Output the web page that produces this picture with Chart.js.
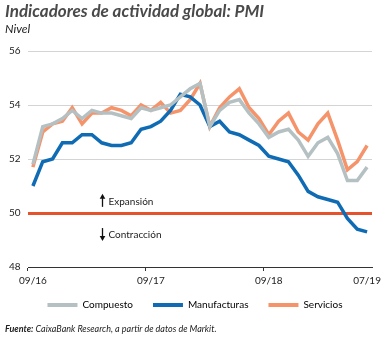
<!DOCTYPE html>
<html>
<head>
<meta charset="utf-8">
<script src="https://cdn.jsdelivr.net/npm/chart.js@4.4.1/dist/chart.umd.min.js"></script>
<style>
  html, body { margin: 0; padding: 0; background: #ffffff; }
  #wrap { position: relative; width: 391px; height: 338px; overflow: hidden; }
  #c { position: absolute; left: 0; top: 0; }
  .title { position: absolute; left: 5px; top: 0px; font-family: Lato, "Open Sans", sans-serif; font-weight: 700; font-style: italic; font-size: 17px; color: #4a4a4a; white-space: nowrap; }
  .sub { position: absolute; left: 5px; top: 21px; font-family: Lato, "Open Sans", sans-serif; font-style: italic; font-size: 12px; color: #222; }
  .src { position: absolute; left: 5px; top: 323px; font-family: Lato, "Open Sans", sans-serif; font-style: italic; font-size: 9px; color: #222; white-space: nowrap; }
  .src b { font-weight: 700; }
</style>
</head>
<body>
<div id="wrap">
  <canvas id="c" width="391" height="338"></canvas>
  <div class="title">Indicadores de actividad global: PMI</div>
  <div class="sub">Nivel</div>
  <div class="src"><b>Fuente:</b> CaixaBank Research, a partir de datos de Markit.</div>
</div>
<script>
// Months 09/16 .. 07/19
const months = ['09/16','10/16','11/16','12/16','01/17','02/17','03/17','04/17','05/17','06/17','07/17','08/17',
  '09/17','10/17','11/17','12/17','01/18','02/18','03/18','04/18','05/18','06/18','07/18','08/18',
  '09/18','10/18','11/18','12/18','01/19','02/19','03/19','04/19','05/19','06/19','07/19'];
const shownLabels = ['09/16','09/17','09/18','07/19'];

const compuesto = [51.8,53.2,53.3,53.5,53.8,53.5,53.8,53.7,53.7,53.6,53.5,53.9,
  53.8,53.9,54.0,54.3,54.6,54.8,53.2,53.8,54.1,54.2,53.7,53.3,
  52.8,53.0,53.1,52.7,52.1,52.6,52.8,52.2,51.2,51.2,51.7];
const manufacturas = [51.0,51.9,52.0,52.6,52.6,52.9,52.9,52.6,52.5,52.5,52.6,53.1,
  53.2,53.4,53.8,54.4,54.3,54.0,53.2,53.4,53.0,52.9,52.7,52.5,
  52.1,52.0,51.9,51.4,50.8,50.6,50.5,50.4,49.8,49.4,49.3];
const servicios = [51.7,53.0,53.3,53.4,53.9,53.3,53.7,53.7,53.9,53.8,53.6,54.0,
  53.8,54.1,53.7,53.8,54.2,54.8,53.2,53.9,54.3,54.6,53.9,53.5,
  52.9,53.4,53.7,53.0,52.7,53.3,53.7,52.7,51.6,51.9,52.5];

const yTicks = [48, 50, 52, 54, 56];
const threshold = 50;

const COL_GREY = '#b5c0c3';
const COL_BLUE = '#0f6cb4';
const COL_ORANGE = '#f5936a';
const COL_RED = '#e5522b';
const FONT = 'Lato, "Open Sans", sans-serif';

const notes = [
  { text: 'Expansión', dir: 'up', at: '04/17', value: 50.45 },
  { text: 'Contracción', dir: 'down', at: '04/17', value: 49.22 }
];

const LEGEND_PAD = 20;   // horizontal gap between legend items
const LEGEND_GAP = 9;    // vertical gap between x axis and legend items

const notePlugin = {
  id: 'notes',
  afterLayout(chart) {
    const lg = chart.legend;
    if (lg) { const s = LEGEND_PAD - LEGEND_GAP; lg.top -= s; lg.bottom -= s; }
  },
  afterDatasetsDraw(chart) {
    const ctx = chart.ctx;
    const xs = chart.scales.x, ys = chart.scales.y;
    ctx.save();
    notes.forEach(n => {
      const x = Math.round(xs.getPixelForValue(months.indexOf(n.at))) + 0.5;
      const y = ys.getPixelForValue(n.value);
      ctx.strokeStyle = '#111';
      ctx.fillStyle = '#111';
      ctx.lineWidth = 1.3;
      const top = y - 6, bot = y + 6;
      ctx.beginPath();
      if (n.dir === 'up') {
        ctx.moveTo(x, bot); ctx.lineTo(x, top + 3); ctx.stroke();
        ctx.beginPath(); ctx.moveTo(x - 2.8, top + 4); ctx.lineTo(x + 2.8, top + 4); ctx.lineTo(x, top - 1); ctx.closePath(); ctx.fill();
      } else {
        ctx.moveTo(x, top); ctx.lineTo(x, bot - 3); ctx.stroke();
        ctx.beginPath(); ctx.moveTo(x - 2.8, bot - 4); ctx.lineTo(x + 2.8, bot - 4); ctx.lineTo(x, bot + 1); ctx.closePath(); ctx.fill();
      }
      ctx.font = '10px ' + FONT;
      ctx.textBaseline = 'middle';
      ctx.textAlign = 'left';
      ctx.fillStyle = '#222';
      ctx.fillText(n.text, x + 6, y + 1);
    });
    ctx.restore();
  }
};

const lastIdx = months.length; // offset grid has one extra line at the right edge
const tickIdx = shownLabels.slice(0, 3).map(l => months.indexOf(l));

new Chart(document.getElementById('c'), {
  type: 'line',
  data: {
    labels: months,
    datasets: [
      { label: 'Compuesto', data: compuesto, borderColor: COL_GREY, backgroundColor: COL_GREY, borderWidth: 3.5, pointRadius: 0, tension: 0 },
      { label: 'Manufacturas', data: manufacturas, borderColor: COL_BLUE, backgroundColor: COL_BLUE, borderWidth: 3.5, pointRadius: 0, tension: 0 },
      { label: 'Servicios', data: servicios, borderColor: COL_ORANGE, backgroundColor: COL_ORANGE, borderWidth: 3.5, pointRadius: 0, tension: 0 }
    ]
  },
  options: {
    responsive: false,
    animation: false,
    devicePixelRatio: 1,
    layout: { padding: { top: 51, left: 18, right: 19, bottom: 7 } },
    plugins: {
      legend: {
        position: 'bottom',
        labels: {
          boxWidth: 30, boxHeight: 4, padding: LEGEND_PAD,
          color: '#222', font: { family: FONT, size: 10 },
          generateLabels(chart) {
            return chart.data.datasets.map((d, i) => ({
              text: d.label, fillStyle: d.borderColor, strokeStyle: d.borderColor, lineWidth: 0, datasetIndex: i, hidden: false
            }));
          }
        }
      },
      tooltip: { enabled: false }
    },
    scales: {
      x: {
        type: 'category',
        offset: true,
        grid: {
          offset: true,
          drawOnChartArea: false,
          drawTicks: true,
          tickLength: 4,
          color: ctx => (tickIdx.includes(ctx.index) || ctx.index === lastIdx) ? '#333' : 'rgba(0,0,0,0)',
          lineWidth: 1
        },
        border: { display: true, color: '#333', width: 1 },
        ticks: {
          autoSkip: false, maxRotation: 0, minRotation: 0, padding: 4,
          color: '#222', font: { family: FONT, size: 10 },
          callback: function(v) { const l = this.getLabelForValue(v); return shownLabels.includes(l) ? l : ''; }
        }
      },
      y: {
        min: 48, max: 56,
        afterBuildTicks: s => { s.ticks = yTicks.map(v => ({ value: v })); },
        afterFit: s => { s.width = 10; },
        grid: {
          drawTicks: false,
          color: ctx => ctx.tick && ctx.tick.value === threshold ? COL_RED : (ctx.tick && ctx.tick.value === 48 ? 'rgba(0,0,0,0)' : '#d4d4d4'),
          lineWidth: ctx => ctx.tick && ctx.tick.value === threshold ? 3 : 1
        },
        border: { display: false },
        ticks: { mirror: true, crossAlign: 'near', padding: -19, color: '#222', font: { family: FONT, size: 10 } }
      }
    }
  },
  plugins: [notePlugin]
});
</script>
</body>
</html>
